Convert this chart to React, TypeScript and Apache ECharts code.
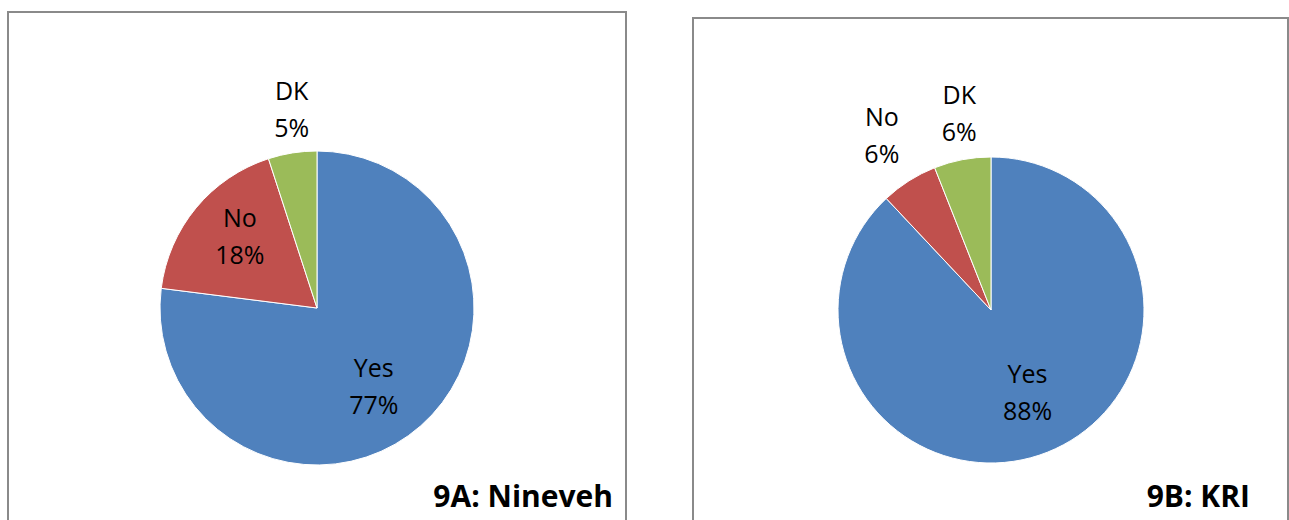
import React, { useEffect, useRef } from "react";
import * as echarts from "echarts";

const categories = ["Yes", "No", "DK"];
const ninevehValues = [77, 18, 5];
const kriValues = [88, 6, 6];
const panelTitles = ["9A: Nineveh", "9B: KRI"];
const sliceColors = ["#4F81BD", "#C0504D", "#9BBB59"];

// label placement as a fraction of the radius, plus a small nudge (layout, not data)
const ninevehLabelRadius = [0.61, 0.67, 1.27];
const kriLabelRadius = [0.59, 1.34, 1.3];
const ninevehLabelNudge = [[-9, 3], [7, -3], [7, 5]];
const kriLabelNudge = [[2, -6], [5, 4], [7, 6]];

function makePie(
  name: string,
  values: number[],
  center: [number, number],
  radius: number,
  labelRadius: number[],
  nudge: number[][]
) {
  return {
    type: "pie",
    name,
    center,
    radius,
    startAngle: 90,
    clockwise: true,
    silent: true,
    emphasis: { disabled: true },
    data: categories.map((c, i) => ({
      name: c,
      value: values[i],
      itemStyle: { color: sliceColors[i] },
    })),
    itemStyle: { borderColor: "#ffffff", borderWidth: 1 },
    label: {
      show: true,
      position: "inside",
      formatter: "{b}\n{c}%",
      color: "#000000",
      fontFamily: "Open Sans",
      fontSize: 25,
      lineHeight: 37,
      align: "center",
    },
    labelLine: { show: false },
    labelLayout: (p: any) => {
      const r = p.labelRect;
      const cx = r.x + r.width / 2;
      const cy = r.y + r.height / 2;
      const k = labelRadius[p.dataIndex] / 0.5 - 1;
      const n = nudge[p.dataIndex];
      return {
        dx: (cx - center[0]) * k + n[0],
        dy: (cy - center[1]) * k + n[1],
      };
    },
  };
}

export default function App() {
  const ref = useRef<HTMLDivElement>(null);
  useEffect(() => {
    document.body.style.margin = "0";
    const chart = echarts.init(ref.current!, null, { renderer: "svg" });
    chart.setOption({
      animation: false,
      backgroundColor: "#ffffff",
      graphic: [
        {
          type: "rect",
          shape: { x: 8, y: 12, width: 618, height: 540 },
          style: { fill: "none", stroke: "#8a8a8a", lineWidth: 2 },
          z: -1,
        },
        {
          type: "rect",
          shape: { x: 693, y: 18, width: 595, height: 540 },
          style: { fill: "none", stroke: "#8a8a8a", lineWidth: 2 },
          z: -1,
        },
        {
          type: "text",
          x: 613,
          y: 495,
          style: {
            text: panelTitles[0],
            fontFamily: "Open Sans",
            fontWeight: "bold",
            fontSize: 30,
            fill: "#000000",
            align: "right",
            verticalAlign: "middle",
          },
        },
        {
          type: "text",
          x: 1250,
          y: 495,
          style: {
            text: panelTitles[1],
            fontFamily: "Open Sans",
            fontWeight: "bold",
            fontSize: 30,
            fill: "#000000",
            align: "right",
            verticalAlign: "middle",
          },
        },
      ],
      series: [
        makePie("Nineveh", ninevehValues, [317, 308], 157, ninevehLabelRadius, ninevehLabelNudge),
        makePie("KRI", kriValues, [991, 310], 153, kriLabelRadius, kriLabelNudge),
      ],
    });
    return () => chart.dispose();
  }, []);
  return <div ref={ref} style={{ width: 1289, height: 520 }} />;
}
